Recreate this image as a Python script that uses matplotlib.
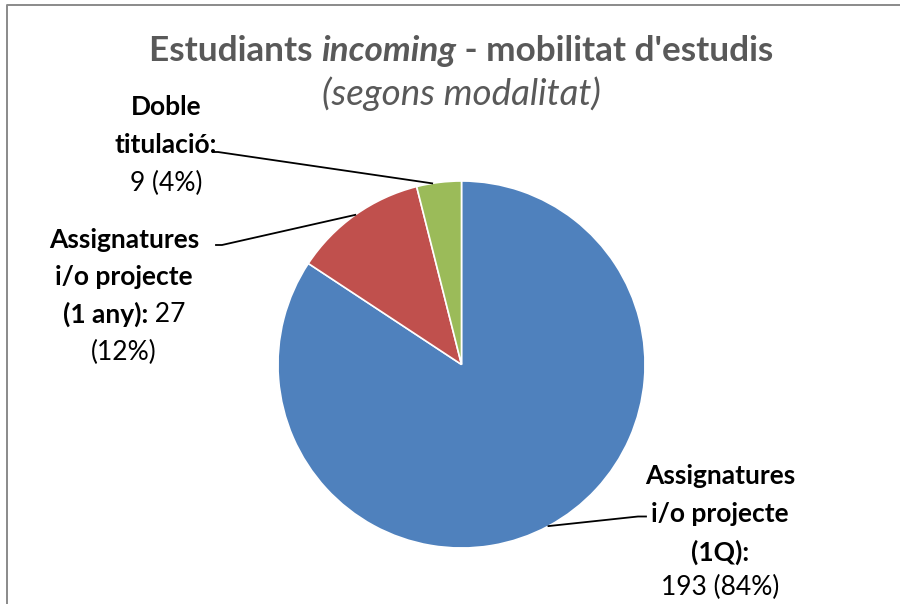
import matplotlib
matplotlib.use('Agg')
import matplotlib.pyplot as plt
import numpy as np

# data
values = [193, 27, 9]
pcts = ['84%', '12%', '4%']
colors = ['#4F81BD', '#C0504D', '#9BBB59']

plt.rcParams['font.family'] = ['Lato', 'DejaVu Sans']

H = 604


def Y(y):
    # pixel row (from top) -> data y
    return H - y


fig = plt.figure(figsize=(9, 6.04), dpi=100)
ax = fig.add_axes([0, 0, 1, 1])

# frame of the chart area (only left and top edges are in the crop)
ax.plot([6.5, 6.5, 900], [Y(604), Y(4.5), Y(4.5)],
        color='#8a8a8a', lw=1.4, clip_on=False)

cx, cy, r = 461.5, Y(364.5), 183.5
wedges, _ = ax.pie(values, colors=colors, startangle=90, counterclock=False,
                   center=(cx, cy), radius=r, frame=True,
                   wedgeprops=dict(edgecolor='white', linewidth=1.2))
ax.set_xlim(0, 900)
ax.set_ylim(0, H)
ax.set_aspect('equal')
ax.axis('off')

renderer = fig.canvas.get_renderer()


def draw_lines(xc, lines, size, color='black'):
    # lines: list of (y, [(text, weight, style), ...]) centred at xc
    for y, parts in lines:
        objs = []
        widths = []
        for txt, weight, style in parts:
            t = ax.text(0, Y(y), txt, fontsize=size, fontweight=weight, fontstyle=style,
                        color=color, va='center', ha='left')
            bb = t.get_window_extent(renderer)
            objs.append(t)
            widths.append(bb.width)
        total = sum(widths)
        x = xc - total / 2
        for t, w in zip(objs, widths):
            t.set_x(x)
            x += w


# title
draw_lines(461, [(51, [('Estudiants ', 'bold', 'normal'), ('incoming', 'bold', 'italic'),
                       (" - mobilitat d'estudis", 'bold', 'normal')])], 25.3, color='#595959')
draw_lines(461, [(94, [('(segons modalitat)', 'normal', 'italic')])], 26.5, color='#595959')

# data labels
fs = 19
draw_lines(166, [(107, [('Doble', 'bold', 'normal')]),
                 (145, [('titulació:', 'bold', 'normal')]),
                 (183, [('%d (%s)' % (values[2], pcts[2]), 'normal', 'normal')])], fs)
draw_lines(124, [(240, [('Assignatures', 'bold', 'normal')]),
                 (277, [('i/o projecte', 'bold', 'normal')]),
                 (314, [('(1 any):', 'bold', 'normal'), (' %d' % values[1], 'normal', 'normal')]),
                 (352, [('(%s)' % pcts[1], 'normal', 'normal')])], fs)
draw_lines(720, [(476, [('Assignatures', 'bold', 'normal')]),
                 (514, [('i/o projecte', 'bold', 'normal')]),
                 (552, [('(1Q):', 'bold', 'normal')]),
                 (587, [('%d (%s)' % (values[0], pcts[0]), 'normal', 'normal')])], fs)


# leader lines from wedge edge to label
def edge_point(w, frac):
    a = np.deg2rad(w.theta1 + (w.theta2 - w.theta1) * frac)
    return cx + r * np.cos(a), cy + r * np.sin(a)


px, py = edge_point(wedges[2], 0.65)
ax.plot([px, 218, 213], [py, Y(152), Y(152)], color='black', lw=1.3)
px, py = edge_point(wedges[1], 0.5)
ax.plot([px, 222, 216], [py, Y(245), Y(245)], color='black', lw=1.3)
px, py = edge_point(wedges[0], 0.5)
ax.plot([px, 638, 646], [py, Y(516.5), Y(516.5)], color='black', lw=1.3)

fig.savefig('out.png', dpi=100)
